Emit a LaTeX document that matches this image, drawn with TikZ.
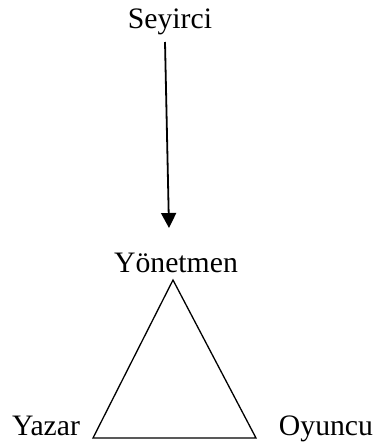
\documentclass[tikz,border=0pt]{standalone}
\usepackage{fontspec}
\setmainfont{Liberation Serif}
\usetikzlibrary{arrows.meta}
\begin{document}
\begin{tikzpicture}[x=1pt,y=-1pt,
  lbl/.style={anchor=base,inner sep=0pt,font=\fontsize{29.7}{34}\selectfont},
  tri/.style={line width=1.3pt,line join=miter},
  arr/.style={line width=1.8pt,-{Triangle[length=15pt,width=15pt]}}]
\useasboundingbox (0,0) rectangle (375,442);
\node[lbl] (sey) at (170,28) {Seyirci};
\node[lbl] (yon) at (176,272) {Yönetmen};
\node[lbl] (yaz) at (46,435) {Yazar};
\node[lbl] (oyu) at (326,435) {Oyuncu};
\coordinate (a1) at (165,42);
\coordinate (a2) at (169,228);
\coordinate (top) at (173,280);
\coordinate (bl) at (93,438);
\coordinate (br) at (256,438);
\draw[arr] (a1) -- (a2);
\draw[tri] (top) -- (bl) -- (br) -- cycle;
\end{tikzpicture}
\end{document}
